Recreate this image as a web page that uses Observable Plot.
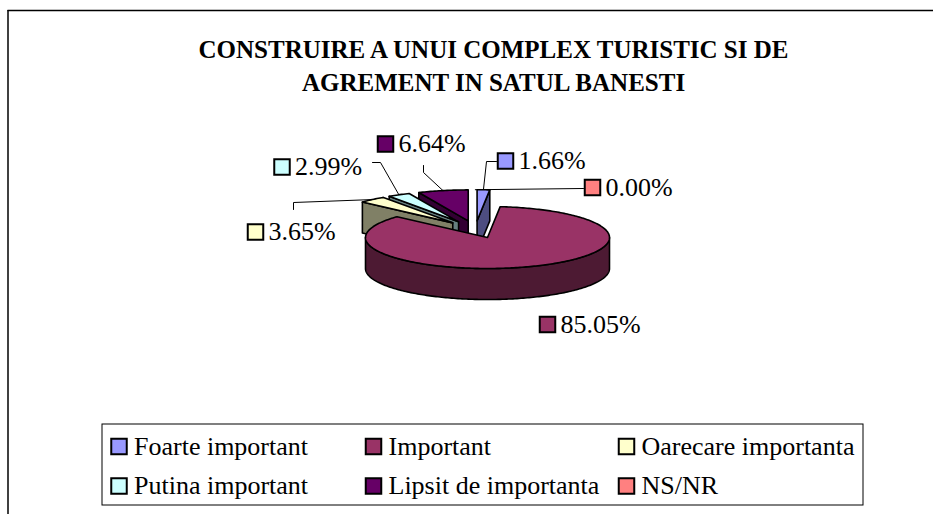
<!DOCTYPE html>
<html><head><meta charset="utf-8">
<script src="https://cdn.jsdelivr.net/npm/d3@7"></script>
<script src="https://cdn.jsdelivr.net/npm/@observablehq/plot@0.6"></script>
<style>html,body{margin:0;padding:0;background:#fff;overflow:hidden}
svg text{font-family:"Liberation Serif","Times New Roman",Times,serif !important}</style>
</head><body><div id="chart"></div>
<script>
// ---- data ----
const categories = ["Foarte important","Important","Oarecare importanta","Putina important","Lipsit de importanta","NS/NR"];
const values = [1.66, 85.05, 3.65, 2.99, 6.64, 0.00];
const colors = ["#9999FF","#993366","#FFFFCC","#CCFFFF","#660066","#FF8080"];
const titleLines = ["CONSTRUIRE A UNUI COMPLEX TURISTIC SI DE","AGREMENT IN SATUL BANESTI"];

// ---- layout (pixels) ----
const W = 933, H = 514;
const FONT = "Liberation Serif";
const geo = {cx: 474.8, cy: 228.9, rx: 122, ry: 31, depth: 31, explode: 0.28};
const labelLayout = [
  {key: [505, 160.5], path: [[486, 161], [496, 161]]},
  {key: [547, 324], path: []},
  {key: [255, 231.5], path: [[293, 202], [293, 209]]},
  {key: [281.5, 166.5], path: [[380, 162], [372, 162]]},
  {key: [385, 143.5], path: [[423, 172], [423, 165]]},
  {key: [592, 187], path: [[583, 188]]}
];
const legendCols = [118.5, 373, 626], legendRows = [446, 485.5];
const legendBox = {x1: 102, x2: 863, y1: 424, y2: 505};
const titleX = 493, titleY = [49, 82];

// ---- geometry ----
const rad = Math.PI / 180;
const shade = c => { const r = d3.rgb(c); return d3.rgb(r.r * 0.5, r.g * 0.5, r.b * 0.5).formatHex(); };
const pt = (ox, oy, a, dy = 0) => ({x: ox + geo.rx * Math.sin(a), y: oy - geo.ry * Math.cos(a) + dy});
const arcs = d3.pie().sort(null).value(d => d)(values);
const slices = arcs.map((a, i) => {
  const mid = (a.startAngle + a.endAngle) / 2;
  return {i, a0: a.startAngle, a1: a.endAngle, mid,
    ox: geo.cx + geo.explode * geo.rx * Math.sin(mid),
    oy: geo.cy - geo.explode * geo.ry * Math.cos(mid)};
});
function arcPts(s, from, to, dy = 0) {
  const n = Math.max(2, Math.ceil(Math.abs(to - from) / rad));
  return d3.range(n + 1).map(k => pt(s.ox, s.oy, from + (to - from) * k / n, dy));
}
const polys = [];
slices.filter(s => values[s.i] > 0).sort((a, b) => a.oy - b.oy).forEach(s => {
  const tip = {x: s.ox, y: s.oy}, tipB = {x: s.ox, y: s.oy + geo.depth};
  const face = a => { const r = pt(s.ox, s.oy, a), rb = pt(s.ox, s.oy, a, geo.depth); return [tip, r, rb, tipB, tip]; };
  if (Math.sin(s.a0) < -1e-6) polys.push({fill: shade(colors[s.i]), pts: face(s.a0)});
  if (Math.sin(s.a1) > 1e-6) polys.push({fill: shade(colors[s.i]), pts: face(s.a1)});
  const lo = Math.max(s.a0, Math.PI / 2), hi = Math.min(s.a1, 3 * Math.PI / 2);
  if (hi > lo) {
    const top = arcPts(s, lo, hi), bot = arcPts(s, hi, lo, geo.depth);
    polys.push({fill: shade(colors[s.i]), pts: [...top, ...bot, top[0]]});
  }
  polys.push({fill: colors[s.i], pts: [tip, ...arcPts(s, s.a0, s.a1), tip]});
});

// ---- labels ----
const fmt = v => d3.format(".2f")(v) + "%";
const labels = slices.map(s => ({
  key: labelLayout[s.i].key, text: fmt(values[s.i]), color: colors[s.i],
  leader: [pt(s.ox, s.oy, s.mid), ...labelLayout[s.i].path.map(([x, y]) => ({x, y}))]
}));
const legend = categories.map((c, i) => ({name: c, color: colors[i], x: legendCols[i % 3], y: legendRows[Math.floor(i / 3)]}));
const sq = 15.5 / Math.sqrt(Math.PI);

const marks = [
  Plot.ruleX([7.5], {y1: 10, y2: H + 10, stroke: "#000", strokeWidth: 1.5}),
  Plot.ruleY([10], {x1: 7.5, x2: W + 10, stroke: "#000", strokeWidth: 1.5}),
  Plot.text(titleLines.map((t, i) => ({t, y: titleY[i]})), {x: () => titleX, y: "y", text: "t", fontFamily: FONT, fontSize: 25, fontWeight: "bold", fill: "#000", textAnchor: "middle", lineAnchor: "middle"}),
  ...labels.filter(l => l.leader.length > 1).map(l => Plot.line(l.leader, {x: "x", y: "y", stroke: "#000", strokeWidth: 1})),
  ...polys.map(p => Plot.line(p.pts, {x: "x", y: "y", fill: p.fill, stroke: "#000", strokeWidth: 1.6, strokeLinejoin: "round"})),
  Plot.dot(labels, {x: d => d.key[0], y: d => d.key[1], symbol: "square", r: sq, fill: d => d.color, stroke: "#000", strokeWidth: 2}),
  Plot.text(labels, {x: d => d.key[0] + 13, y: d => d.key[1], text: "text", fontFamily: FONT, fontSize: 26, fill: "#000", textAnchor: "start", lineAnchor: "middle"}),
  Plot.rect([legendBox], {x1: "x1", x2: "x2", y1: "y1", y2: "y2", fill: "none", stroke: "#000", strokeWidth: 1}),
  Plot.dot(legend, {x: "x", y: "y", symbol: "square", r: sq, fill: "color", stroke: "#000", strokeWidth: 2}),
  Plot.text(legend, {x: d => d.x + 15, y: "y", text: "name", fontFamily: FONT, fontSize: 26, fill: "#000", textAnchor: "start", lineAnchor: "middle"})
];

const chart = Plot.plot({
  width: W, height: H, margin: 0,
  x: {domain: [0, W], range: [0, W], axis: null},
  y: {domain: [0, H], range: [0, H], axis: null},
  color: {type: "identity"},
  style: {background: "#fff", overflow: "hidden", fontFamily: FONT},
  marks
});
document.getElementById("chart").appendChild(chart);
</script>
</body></html>
